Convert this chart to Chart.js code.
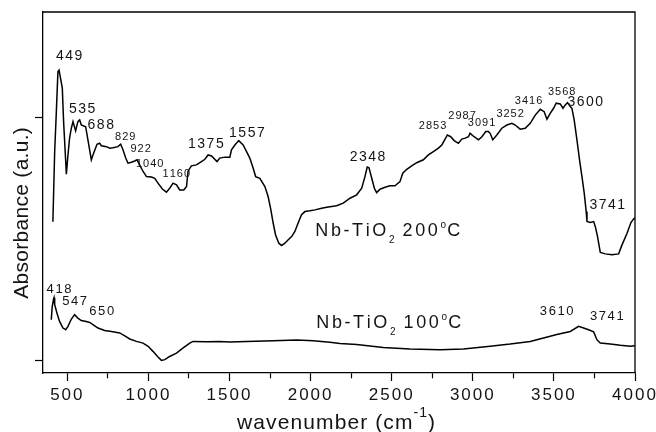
<!DOCTYPE html>
<html>
<head>
<meta charset="utf-8">
<script src="https://cdn.jsdelivr.net/npm/chart.js@4.4.0/dist/chart.umd.min.js"></script>
<style>
  html, body { margin: 0; padding: 0; background: #ffffff; }
  #wrap { width: 656px; height: 432px; }
</style>
</head>
<body>
<div id="wrap"><canvas id="c" width="656" height="432"></canvas></div>
<script>
// FTIR spectra of Nb-TiO2 after treatment at 200 °C and 100 °C
// wavenumber in cm^-1, absorbance in arbitrary units

const wn200 = [411,422,432,442,449,469,477,490,494,504,
  514,525,535,551,565,576,586,613,627,648,
  658,683,699,710,741,761,781,812,829,843,
  860,874,895,915,930,946,967,988,1019,1039,
  1059,1086,1111,1131,1152,1173,1193,1218,1235,1244,
  1255,1265,1296,1327,1348,1368,1389,1423,1440,1471,
  1502,1512,1533,1557,1584,1605,1625,1646,1661,1687,
  1718,1738,1755,1769,1784,1804,1821,1841,1862,1883,
  1903,1923,1944,1965,1996,2027,2068,2099,2130,2160,
  2201,2243,2284,2315,2335,2349,2360,2377,2393,2407,
  2428,2459,2489,2520,2551,2568,2593,2623,2654,2695,
  2726,2757,2788,2809,2829,2843,2864,2885,2911,2932,
  2953,2973,2983,3008,3035,3056,3080,3096,3107,3123,
  3148,3179,3210,3241,3261,3292,3323,3354,3385,3416,
  3440,3457,3477,3498,3514,3539,3556,3570,3584,3601,
  3611,3625,3642,3658,3673,3687,3699,3704,3724,3745,
  3755,3769,3786,3817,3858,3899,3920,3951,3975,3991,
  4000];
const abs200 = [0.570,0.859,1.018,1.187,1.194,1.120,0.982,0.818,0.766,0.845,
  0.915,0.956,0.982,0.944,0.982,0.989,0.968,0.961,0.907,0.825,
  0.845,0.889,0.893,0.883,0.879,0.873,0.875,0.879,0.889,0.866,
  0.832,0.811,0.815,0.820,0.825,0.804,0.777,0.756,0.754,0.749,
  0.729,0.705,0.692,0.708,0.729,0.722,0.701,0.701,0.715,0.777,
  0.790,0.800,0.804,0.818,0.827,0.845,0.841,0.818,0.832,0.836,
  0.836,0.866,0.886,0.904,0.886,0.859,0.832,0.790,0.756,0.749,
  0.715,0.674,0.619,0.565,0.516,0.482,0.472,0.482,0.496,0.509,
  0.530,0.565,0.599,0.612,0.615,0.619,0.626,0.630,0.633,0.636,
  0.647,0.667,0.681,0.708,0.756,0.795,0.792,0.749,0.708,0.690,
  0.704,0.712,0.718,0.718,0.735,0.770,0.786,0.800,0.813,0.825,
  0.845,0.859,0.873,0.886,0.910,0.927,0.920,0.904,0.893,0.910,
  0.914,0.920,0.934,0.920,0.907,0.920,0.941,0.941,0.934,0.907,
  0.927,0.955,0.968,0.975,0.968,0.951,0.955,0.975,1.009,1.033,
  1.023,0.992,1.016,1.037,1.058,1.055,1.037,1.051,1.060,1.044,
  1.037,0.989,0.907,0.825,0.756,0.688,0.612,0.571,0.567,0.571,
  0.551,0.509,0.444,0.438,0.434,0.438,0.475,0.523,0.567,0.581,
  0.586];

const wn100 = [401,407,415,418,422,436,452,473,490,504,
  525,545,565,586,617,638,658,689,730,772,
  823,854,885,926,967,998,1028,1059,1080,1101,
  1131,1173,1214,1255,1275,1358,1440,1502,1605,1769,
  1914,2016,2119,2181,2284,2448,2613,2798,2942,3107,
  3230,3354,3436,3518,3601,3652,3683,3714,3745,3765,
  3786,3848,3910,3971,3999];
const abs100 = [0.167,0.222,0.252,0.258,0.229,0.195,0.160,0.133,0.126,0.140,
  0.170,0.188,0.174,0.164,0.160,0.156,0.147,0.133,0.123,0.119,
  0.113,0.101,0.088,0.078,0.071,0.058,0.037,0.014,0.000,0.003,
  0.016,0.030,0.051,0.071,0.078,0.077,0.078,0.076,0.078,0.081,
  0.084,0.081,0.074,0.069,0.065,0.053,0.047,0.044,0.047,0.058,
  0.067,0.078,0.092,0.106,0.119,0.140,0.133,0.126,0.117,0.085,
  0.071,0.067,0.062,0.058,0.060];

// band assignments written next to each spectrum
const peaks200 = [449, 535, 688, 829, 922, 1040, 1160, 1375, 1557, 2348,
  2853, 2987, 3091, 3252, 3416, 3568, 3600, 3741];
const peaks100 = [418, 547, 650, 3610, 3741];

// x axis ticks (every 250, labelled every 500)
const xTicks = [500, 750, 1000, 1250, 1500, 1750, 2000, 2250, 2500, 2750,
  3000, 3250, 3500, 3750, 4000];
const yTicks = [0, 1];

const seriesNames = ['Nb-TiO2 200°C', 'Nb-TiO2 100°C'];

// ---- layout of the band labels: [wavenumber, absorbance, size class] ----
const spots200 = [[511,1.252,'b'],[591,1.034,'b'],[706,0.968,'b'],[857,0.919,'s'],
  [952,0.870,'s'],[1008,0.806,'s'],[1172,0.767,'s'],[1354,0.890,'b'],[1607,0.936,'b'],
  [2351,0.837,'b'],[2752,0.964,'s'],[2934,1.005,'s'],[3054,0.975,'s'],[3230,1.014,'s'],
  [3344,1.065,'s'],[3548,1.106,'s'],[3693,1.063,'b'],[3829,0.638,'b']];
const spots100 = [[449,0.290,'m'],[545,0.241,'m'],[712,0.200,'m'],[3517,0.202,'m'],[3826,0.180,'m']];
const nameSpots = [[2029, 0.512], [2035, 0.134]];

const FONT = "'Liberation Sans', Arial, Helvetica, sans-serif";
const INK = '#141414';
const labelStyle = { b: { size: 14, ls: 1.5 }, m: { size: 13, ls: 1.6 }, s: { size: 11, ls: 1.0 } };

function runWidth(ctx, runs) {
  let w = 0;
  runs.forEach(r => {
    ctx.font = r.size + 'px ' + FONT;
    for (const ch of r.text) w += ctx.measureText(ch).width + r.ls;
  });
  return w - (runs.length ? runs[runs.length - 1].ls : 0);
}
function drawRuns(ctx, runs, x, y, align) {
  let cx = x;
  if (align === 'center') cx = x - runWidth(ctx, runs) / 2;
  for (const r of runs) {
    ctx.font = r.size + 'px ' + FONT;
    for (const ch of r.text) {
      ctx.fillText(ch, cx, y + (r.dy || 0));
      cx += ctx.measureText(ch).width + r.ls;
    }
  }
}
function nameRuns(name) {
  // "Nb-TiO2 200°C": subscript 2, raised degree mark
  const m = name.match(/^(Nb-TiO)2 (\d+)°C$/);
  return [
    { text: m[1], size: 18, ls: 2.6 },
    { text: '2', size: 10, ls: 0.5, dy: 7 },
    { text: ' ' + m[2], size: 18, ls: 2.6 },
    { text: 'o', size: 10, ls: 1.2, dy: -8 },
    { text: 'C', size: 18, ls: 0 }
  ];
}

const textPlugin = {
  id: 'spectrumText',
  beforeDraw(chart) {
    chart.ctx.letterSpacing = '2px';
  },
  afterDraw(chart) {
    const { ctx, chartArea: a, scales: { x, y } } = chart;
    ctx.save();
    ctx.letterSpacing = '0px';
    ctx.fillStyle = INK;
    ctx.textAlign = 'left';

    // frame: top and right edges
    ctx.strokeStyle = '#000';
    ctx.lineWidth = 1.3;
    ctx.beginPath();
    ctx.moveTo(a.left, a.top);
    ctx.lineTo(a.right, a.top);
    ctx.lineTo(a.right, a.bottom);
    ctx.stroke();

    // band labels
    ctx.textBaseline = 'middle';
    const put = (vals, spots) => vals.forEach((v, i) => {
      const [sx, sy, cls] = spots[i];
      const st = labelStyle[cls];
      drawRuns(ctx, [{ text: String(v), size: st.size, ls: st.ls }],
        x.getPixelForValue(sx), y.getPixelForValue(sy), 'center');
    });
    put(peaks200, spots200);
    put(peaks100, spots100);

    // sample names
    ctx.textBaseline = 'alphabetic';
    seriesNames.forEach((n, i) => {
      drawRuns(ctx, nameRuns(n), x.getPixelForValue(nameSpots[i][0]),
        y.getPixelForValue(nameSpots[i][1]), 'left');
    });

    // axis titles
    const xt = [
      { text: 'wavenumber (cm', size: 21, ls: 1.1 },
      { text: '-1', size: 14, ls: 1.0, dy: -12 },
      { text: ')', size: 21, ls: 0 }
    ];
    drawRuns(ctx, xt, (a.left + a.right) / 2 - 3, 429, 'center');

    ctx.save();
    ctx.translate(27.5, 213);
    ctx.rotate(-Math.PI / 2);
    drawRuns(ctx, [{ text: 'Absorbance (a.u.)', size: 21, ls: 0.3 }], 0, 0, 'center');
    ctx.restore();

    ctx.restore();
  }
};

const ctx = document.getElementById('c').getContext('2d');
new Chart(ctx, {
  type: 'line',
  data: {
    datasets: [
      { label: seriesNames[0], data: wn200.map((w, i) => ({ x: w, y: abs200[i] })) },
      { label: seriesNames[1], data: wn100.map((w, i) => ({ x: w, y: abs100[i] })) }
    ]
  },
  options: {
    responsive: false,
    animation: false,
    devicePixelRatio: 1,
    layout: { padding: { left: 0, top: 12, right: 21, bottom: 0 } },
    elements: {
      line: { borderColor: '#000', borderWidth: 1.5, tension: 0, fill: false },
      point: { radius: 0, hoverRadius: 0 }
    },
    plugins: { legend: { display: false }, tooltip: { enabled: false }, title: { display: false } },
    scales: {
      x: {
        type: 'linear',
        min: 350, max: 4000,
        afterBuildTicks: s => { s.ticks = xTicks.map(v => ({ value: v })); },
        afterFit: s => { s.height = 59; s.paddingLeft = 0; s.paddingRight = 0; },
        ticks: {
          autoSkip: false, maxRotation: 0, minRotation: 0, padding: 4,
          color: INK,
          font: { family: FONT, size: 17 },
          callback: v => (v % 500 === 0 ? String(v) : '')
        },
        grid: {
          drawOnChartArea: false, drawTicks: true, tickLength: 8,
          tickColor: '#000', tickWidth: 1.2,
          tickBorderDash: c => (c.tick && c.tick.value % 500 !== 0 ? [5, 30] : [])
        },
        border: { display: true, color: '#000', width: 1.3 },
        title: { display: false }
      },
      y: {
        type: 'linear',
        min: -0.052, max: 1.433,
        afterBuildTicks: s => { s.ticks = yTicks.map(v => ({ value: v })); },
        afterFit: s => { s.width = 43; s.paddingTop = 0; s.paddingBottom = 0; },
        ticks: { display: false },
        grid: { drawOnChartArea: false, drawTicks: true, tickLength: 8, tickColor: '#000', tickWidth: 1.2 },
        border: { display: true, color: '#000', width: 1.3 },
        title: { display: false }
      }
    }
  },
  plugins: [textPlugin]
});
</script>
</body>
</html>
